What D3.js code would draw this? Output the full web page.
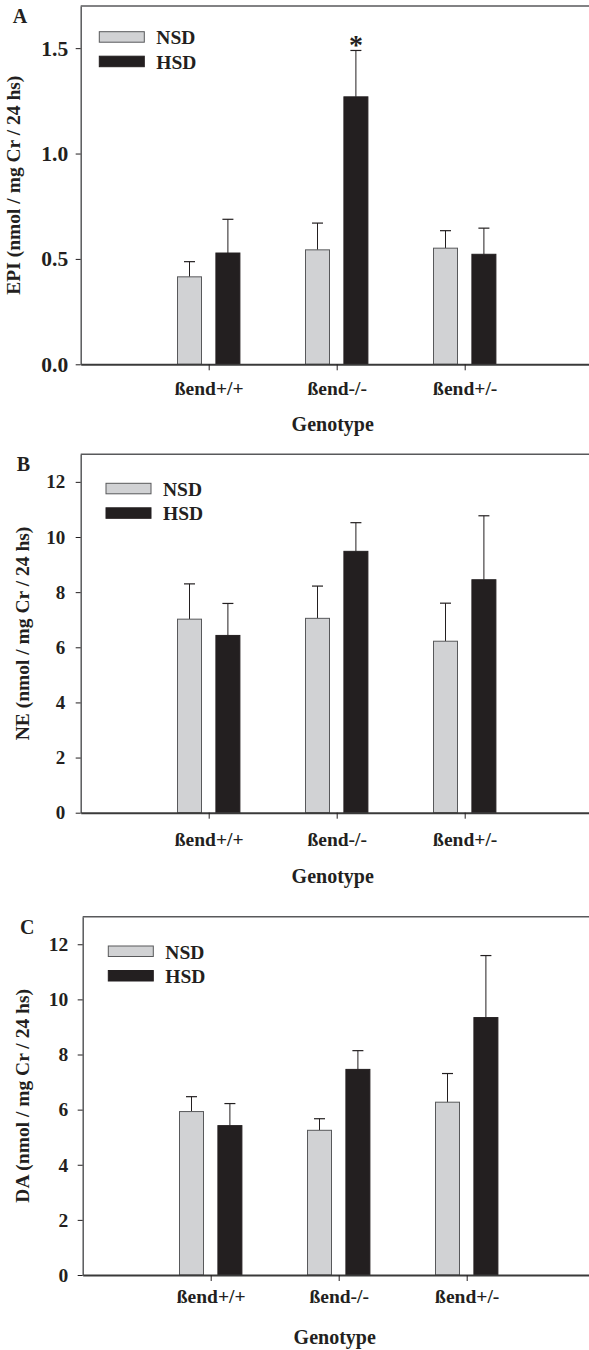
<!DOCTYPE html>
<html>
<head>
<meta charset="utf-8">
<script src="https://cdn.jsdelivr.net/npm/d3@7"></script>
<style>
  body { margin: 0; background: #fff; }
  svg text { font-family: "Liberation Serif", "Times New Roman", serif; font-weight: bold; fill: #231f20; }
</style>
</head>
<body>
<div id="chart"></div>
<script>
// values (mean, and the SEM shown as the upper whisker)
const categories = ["ßend+/+", "ßend-/-", "ßend+/-"];
const seriesNames = ["NSD", "HSD"];

const epiNSD = [0.415, 0.543, 0.551];
const epiNSDErr = [0.072, 0.127, 0.083];
const epiHSD = [0.528, 1.269, 0.522];
const epiHSDErr = [0.160, 0.220, 0.124];

const neNSD = [7.02, 7.05, 6.22];
const neNSDErr = [1.28, 1.17, 1.38];
const neHSD = [6.43, 9.48, 8.45];
const neHSDErr = [1.16, 1.04, 2.32];

const daNSD = [5.93, 5.25, 6.27];
const daNSDErr = [0.54, 0.42, 1.04];
const daHSD = [5.42, 7.46, 9.34];
const daHSDErr = [0.80, 0.68, 2.25];

const epiTicks = [0, 0.5, 1.0, 1.5];
const countTicks = [0, 2, 4, 6, 8, 10, 12];
const significant = [{ panel: "A", series: 1, index: 1 }];

const width = 589, height = 1350;
const colors = { NSD: "#d1d2d4", HSD: "#231f20" };

const panels = [
  { letter: "A", title: "EPI (nmol / mg Cr / 24 hs)", nsd: epiNSD, nsdErr: epiNSDErr, hsd: epiHSD, hsdErr: epiHSDErr,
    yMax: 1.7, ticks: epiTicks, fmt: d3.format(".1f"), tickFont: 21.5, tickPad: 7.5,
    left: 80.7, top: 6, bottom: 364.3, letterX: 12.7, letterY: 23.3, titleX: 19.5, legX: 99.3, legY: 31.7, labY: 31, genY: 67 },
  { letter: "B", title: "NE (nmol / mg Cr / 24 hs)", nsd: neNSD, nsdErr: neNSDErr, hsd: neHSD, hsdErr: neHSDErr,
    yMax: 13, ticks: countTicks, fmt: d3.format("d"), tickFont: 19, tickPad: 10.5,
    left: 80.7, top: 454.3, bottom: 812.7, letterX: 16.7, letterY: 471, titleX: 28.5, legX: 106, legY: 483.3, labY: 33, genY: 70 },
  { letter: "C", title: "DA (nmol / mg Cr / 24 hs)", nsd: daNSD, nsdErr: daNSDErr, hsd: daHSD, hsdErr: daHSDErr,
    yMax: 13, ticks: countTicks, fmt: d3.format("d"), tickFont: 19.5, tickPad: 9.5,
    left: 82.7, top: 916.7, bottom: 1275, letterX: 20, letterY: 934.3, titleX: 28.5, legX: 108.3, legY: 946, labY: 28, genY: 69 }
];

const svg = d3.select("#chart").append("svg")
  .attr("width", width)
  .attr("height", height);

panels.forEach(p => drawPanel(p));

function drawPanel(p) {
  const g = svg.append("g");
  const x = d3.scaleLinear().domain([0, 4]).range([p.left, p.left + 512]);
  const y = d3.scaleLinear().domain([0, p.yMax]).range([p.bottom, p.top]);
  const offset = 0.15, barW = 24;

  // frame top line
  g.append("line")
    .attr("x1", p.left).attr("x2", x(4))
    .attr("y1", p.top).attr("y2", p.top)
    .attr("stroke", "#58595b").attr("stroke-width", 1.5);

  // y axis
  const yAxis = g.append("g")
    .attr("transform", `translate(${p.left},0)`)
    .call(d3.axisLeft(y).tickValues(p.ticks).tickFormat(p.fmt).tickSize(5).tickSizeOuter(0).tickPadding(p.tickPad));
  yAxis.select(".domain").attr("stroke", "#58595b").attr("stroke-width", 1.5);
  yAxis.selectAll(".tick line").attr("stroke", "#231f20");
  yAxis.selectAll("text").attr("font-size", p.tickFont).attr("font-family", null);

  // bars
  const rows = [];
  categories.forEach((c, i) => {
    rows.push({ s: "NSD", i, v: p.nsd[i], e: p.nsdErr[i], cx: x(i + 1 - offset) });
    rows.push({ s: "HSD", i, v: p.hsd[i], e: p.hsdErr[i], cx: x(i + 1 + offset) });
  });

  // error whiskers (upward only)
  g.selectAll(".err").data(rows).enter().append("line")
    .attr("x1", d => d.cx).attr("x2", d => d.cx)
    .attr("y1", d => y(d.v)).attr("y2", d => y(d.v + d.e))
    .attr("stroke", "#231f20").attr("stroke-width", 1);
  g.selectAll(".cap").data(rows).enter().append("line")
    .attr("x1", d => d.cx - 5.5).attr("x2", d => d.cx + 5.5)
    .attr("y1", d => y(d.v + d.e)).attr("y2", d => y(d.v + d.e))
    .attr("stroke", "#231f20").attr("stroke-width", 1.2);

  g.selectAll(".bar").data(rows).enter().append("rect")
    .attr("x", d => d.cx - barW / 2)
    .attr("y", d => y(d.v))
    .attr("width", barW)
    .attr("height", d => y(0) - y(d.v))
    .attr("fill", d => colors[d.s])
    .attr("stroke", d => d.s === "NSD" ? "#58595b" : "#231f20")
    .attr("stroke-width", 1);

  // x axis
  const xAxis = g.append("g")
    .attr("transform", `translate(0,${p.bottom})`)
    .call(d3.axisBottom(x).tickValues([1, 2, 3]).tickFormat(i => categories[i - 1]).tickSize(6).tickSizeOuter(0).tickPadding(0));
  xAxis.select(".domain").attr("stroke", "#3a3a3a").attr("stroke-width", 2);
  xAxis.selectAll(".tick line").attr("stroke", "#231f20");
  xAxis.selectAll("text")
    .attr("font-size", 19.5).attr("font-family", null)
    .attr("dy", null).attr("y", p.labY);

  g.append("text")
    .attr("x", x(2) - 4).attr("y", p.bottom + p.genY)
    .attr("text-anchor", "middle").attr("font-size", 20)
    .text("Genotype");

  g.append("text")
    .attr("transform", `translate(${p.titleX},${(p.top + p.bottom) / 2}) rotate(-90)`)
    .attr("text-anchor", "middle").attr("font-size", 19.5)
    .text(p.title);

  g.append("text")
    .attr("x", p.letterX).attr("y", p.letterY)
    .attr("font-size", 20)
    .text(p.letter);

  // legend
  const leg = g.append("g").attr("transform", `translate(${p.legX},${p.legY})`);
  seriesNames.forEach((s, k) => {
    leg.append("rect")
      .attr("x", 0).attr("y", k * 24.5)
      .attr("width", 45).attr("height", 10.5)
      .attr("fill", colors[s])
      .attr("stroke", s === "NSD" ? "#58595b" : "#231f20");
    leg.append("text")
      .attr("x", 57).attr("y", k * 24.5 + 12.5)
      .attr("font-size", 19.5)
      .text(s);
  });

  significant.filter(m => m.panel === p.letter).forEach(m => {
    const vals = m.series === 0 ? p.nsd : p.hsd;
    const errs = m.series === 0 ? p.nsdErr : p.hsdErr;
    g.append("text")
      .attr("x", x(m.index + 1 + (m.series === 0 ? -offset : offset)))
      .attr("y", y(vals[m.index] + errs[m.index]) + 4)
      .attr("text-anchor", "middle").attr("font-size", 28)
      .text("*");
  });
}
</script>
</body>
</html>
